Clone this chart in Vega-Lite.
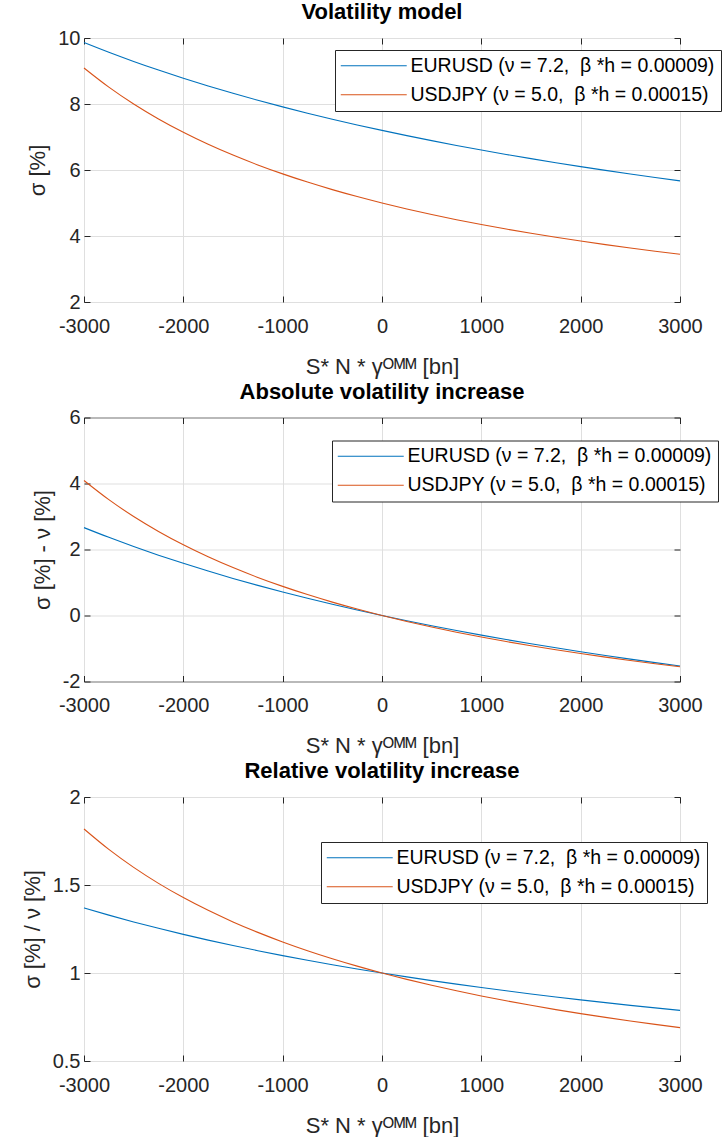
{
  "$schema": "https://vega.github.io/schema/vega-lite/v6.json",
  "padding": {"left": 20, "top": 0, "right": 0, "bottom": 0},
  "background": "white",
  "bounds": "flush",
  "spacing": 115.5,
  "data": {"values": [
    {"x": -3000, "pair": "EURUSD", "sigma": 9.8630, "diff": 2.6630, "ratio": 1.3699},
    {"x": -2750, "pair": "EURUSD", "sigma": 9.5681, "diff": 2.3681, "ratio": 1.3289},
    {"x": -2500, "pair": "EURUSD", "sigma": 9.2903, "diff": 2.0903, "ratio": 1.2903},
    {"x": -2250, "pair": "EURUSD", "sigma": 9.0282, "diff": 1.8282, "ratio": 1.2539},
    {"x": -2000, "pair": "EURUSD", "sigma": 8.7805, "diff": 1.5805, "ratio": 1.2195},
    {"x": -1750, "pair": "EURUSD", "sigma": 8.5460, "diff": 1.3460, "ratio": 1.1869},
    {"x": -1500, "pair": "EURUSD", "sigma": 8.3237, "diff": 1.1237, "ratio": 1.1561},
    {"x": -1250, "pair": "EURUSD", "sigma": 8.1127, "diff": 0.9127, "ratio": 1.1268},
    {"x": -1000, "pair": "EURUSD", "sigma": 7.9121, "diff": 0.7121, "ratio": 1.0989},
    {"x": -750, "pair": "EURUSD", "sigma": 7.7212, "diff": 0.5212, "ratio": 1.0724},
    {"x": -500, "pair": "EURUSD", "sigma": 7.5393, "diff": 0.3393, "ratio": 1.0471},
    {"x": -250, "pair": "EURUSD", "sigma": 7.3657, "diff": 0.1657, "ratio": 1.0230},
    {"x": 0, "pair": "EURUSD", "sigma": 7.2, "diff": 0, "ratio": 1},
    {"x": 250, "pair": "EURUSD", "sigma": 7.0416, "diff": -0.1584, "ratio": 0.9780},
    {"x": 500, "pair": "EURUSD", "sigma": 6.8900, "diff": -0.3100, "ratio": 0.9569},
    {"x": 750, "pair": "EURUSD", "sigma": 6.7447, "diff": -0.4553, "ratio": 0.9368},
    {"x": 1000, "pair": "EURUSD", "sigma": 6.6055, "diff": -0.5945, "ratio": 0.9174},
    {"x": 1250, "pair": "EURUSD", "sigma": 6.4719, "diff": -0.7281, "ratio": 0.8989},
    {"x": 1500, "pair": "EURUSD", "sigma": 6.3436, "diff": -0.8564, "ratio": 0.8811},
    {"x": 1750, "pair": "EURUSD", "sigma": 6.2203, "diff": -0.9797, "ratio": 0.8639},
    {"x": 2000, "pair": "EURUSD", "sigma": 6.1017, "diff": -1.0983, "ratio": 0.8475},
    {"x": 2250, "pair": "EURUSD", "sigma": 5.9875, "diff": -1.2125, "ratio": 0.8316},
    {"x": 2500, "pair": "EURUSD", "sigma": 5.8776, "diff": -1.3224, "ratio": 0.8163},
    {"x": 2750, "pair": "EURUSD", "sigma": 5.7715, "diff": -1.4285, "ratio": 0.8016},
    {"x": 3000, "pair": "EURUSD", "sigma": 5.6693, "diff": -1.5307, "ratio": 0.7874},
    {"x": -3000, "pair": "USDJPY", "sigma": 9.0909, "diff": 4.0909, "ratio": 1.8182},
    {"x": -2750, "pair": "USDJPY", "sigma": 8.5106, "diff": 3.5106, "ratio": 1.7021},
    {"x": -2500, "pair": "USDJPY", "sigma": 8.0000, "diff": 3.0000, "ratio": 1.6000},
    {"x": -2250, "pair": "USDJPY", "sigma": 7.5472, "diff": 2.5472, "ratio": 1.5094},
    {"x": -2000, "pair": "USDJPY", "sigma": 7.1429, "diff": 2.1429, "ratio": 1.4286},
    {"x": -1750, "pair": "USDJPY", "sigma": 6.7797, "diff": 1.7797, "ratio": 1.3559},
    {"x": -1500, "pair": "USDJPY", "sigma": 6.4516, "diff": 1.4516, "ratio": 1.2903},
    {"x": -1250, "pair": "USDJPY", "sigma": 6.1538, "diff": 1.1538, "ratio": 1.2308},
    {"x": -1000, "pair": "USDJPY", "sigma": 5.8824, "diff": 0.8824, "ratio": 1.1765},
    {"x": -750, "pair": "USDJPY", "sigma": 5.6338, "diff": 0.6338, "ratio": 1.1268},
    {"x": -500, "pair": "USDJPY", "sigma": 5.4054, "diff": 0.4054, "ratio": 1.0811},
    {"x": -250, "pair": "USDJPY", "sigma": 5.1948, "diff": 0.1948, "ratio": 1.0390},
    {"x": 0, "pair": "USDJPY", "sigma": 5.0, "diff": 0, "ratio": 1},
    {"x": 250, "pair": "USDJPY", "sigma": 4.8193, "diff": -0.1807, "ratio": 0.9639},
    {"x": 500, "pair": "USDJPY", "sigma": 4.6512, "diff": -0.3488, "ratio": 0.9302},
    {"x": 750, "pair": "USDJPY", "sigma": 4.4944, "diff": -0.5056, "ratio": 0.8989},
    {"x": 1000, "pair": "USDJPY", "sigma": 4.3478, "diff": -0.6522, "ratio": 0.8696},
    {"x": 1250, "pair": "USDJPY", "sigma": 4.2105, "diff": -0.7895, "ratio": 0.8421},
    {"x": 1500, "pair": "USDJPY", "sigma": 4.0816, "diff": -0.9184, "ratio": 0.8163},
    {"x": 1750, "pair": "USDJPY", "sigma": 3.9604, "diff": -1.0396, "ratio": 0.7921},
    {"x": 2000, "pair": "USDJPY", "sigma": 3.8462, "diff": -1.1538, "ratio": 0.7692},
    {"x": 2250, "pair": "USDJPY", "sigma": 3.7383, "diff": -1.2617, "ratio": 0.7477},
    {"x": 2500, "pair": "USDJPY", "sigma": 3.6364, "diff": -1.3636, "ratio": 0.7273},
    {"x": 2750, "pair": "USDJPY", "sigma": 3.5398, "diff": -1.4602, "ratio": 0.7080},
    {"x": 3000, "pair": "USDJPY", "sigma": 3.4483, "diff": -1.5517, "ratio": 0.6897}
  ]},
  "vconcat": [
    {
      "title": "Volatility model",
      "width": 596, "height": 264,
      "layer": [
        {
          "mark": {"type": "line", "strokeWidth": 1.1, "interpolate": "monotone"},
          "encoding": {
            "x": {"field": "x", "type": "quantitative", "scale": {"domain": [-3000, 3000], "nice": false}, "axis": {"values": [-3000, -2000, -1000, 0, 1000, 2000, 3000], "labelExpr": "datum.value + ''", "title": "S* N * γᴼᴹᴹ [bn]"}},
            "y": {"field": "sigma", "type": "quantitative", "scale": {"domain": [2, 10], "nice": false, "zero": false}, "axis": {"values": [2, 4, 6, 8, 10], "labelExpr": "datum.value + ''", "title": "σ [%]"}},
            "color": {"field": "pair", "type": "nominal", "scale": {"domain": ["EURUSD", "USDJPY"], "range": ["#0072BD", "#D95319"]},
              "legend": {"legendX": 251, "legendY": 12, "labelExpr": "datum.label == 'EURUSD' ? 'EURUSD (ν = 7.2, \u00a0β *h = 0.00009)' : 'USDJPY (ν = 5.0, \u00a0β *h = 0.00015)'"}}
          }
        },
        {
          "mark": {"type": "line", "opacity": 0},
          "encoding": {
            "x": {"field": "x", "type": "quantitative", "axis": {"orient": "top", "labels": false, "grid": false, "title": null, "values": [-3000, -2000, -1000, 0, 1000, 2000, 3000]}},
            "y": {"field": "sigma", "type": "quantitative", "axis": {"orient": "right", "labels": false, "grid": false, "title": null, "values": [2, 4, 6, 8, 10]}},
            "detail": {"field": "pair"}
          }
        }
      ],
      "resolve": {"axis": {"x": "independent", "y": "independent"}}
    },
    {
      "title": "Absolute volatility increase",
      "width": 596, "height": 264,
      "layer": [
        {
          "mark": {"type": "line", "strokeWidth": 1.1, "interpolate": "monotone"},
          "encoding": {
            "x": {"field": "x", "type": "quantitative", "scale": {"domain": [-3000, 3000], "nice": false}, "axis": {"values": [-3000, -2000, -1000, 0, 1000, 2000, 3000], "labelExpr": "datum.value + ''", "title": "S* N * γᴼᴹᴹ [bn]"}},
            "y": {"field": "diff", "type": "quantitative", "scale": {"domain": [-2, 6], "nice": false, "zero": false}, "axis": {"values": [-2, 0, 2, 4, 6], "labelExpr": "datum.value + ''", "title": "σ [%] - ν [%]"}},
            "color": {"field": "pair", "type": "nominal", "scale": {"domain": ["EURUSD", "USDJPY"], "range": ["#0072BD", "#D95319"]},
              "legend": {"legendX": 248, "legendY": 23, "labelExpr": "datum.label == 'EURUSD' ? 'EURUSD (ν = 7.2, \u00a0β *h = 0.00009)' : 'USDJPY (ν = 5.0, \u00a0β *h = 0.00015)'"}}
          }
        },
        {
          "mark": {"type": "line", "opacity": 0},
          "encoding": {
            "x": {"field": "x", "type": "quantitative", "axis": {"orient": "top", "labels": false, "grid": false, "title": null, "values": [-3000, -2000, -1000, 0, 1000, 2000, 3000]}},
            "y": {"field": "diff", "type": "quantitative", "axis": {"orient": "right", "labels": false, "grid": false, "title": null, "values": [-2, 0, 2, 4, 6]}},
            "detail": {"field": "pair"}
          }
        }
      ],
      "resolve": {"axis": {"x": "independent", "y": "independent"}}
    },
    {
      "title": "Relative volatility increase",
      "width": 596, "height": 264,
      "layer": [
        {
          "mark": {"type": "line", "strokeWidth": 1.1, "interpolate": "monotone"},
          "encoding": {
            "x": {"field": "x", "type": "quantitative", "scale": {"domain": [-3000, 3000], "nice": false}, "axis": {"values": [-3000, -2000, -1000, 0, 1000, 2000, 3000], "labelExpr": "datum.value + ''", "title": "S* N * γᴼᴹᴹ [bn]"}},
            "y": {"field": "ratio", "type": "quantitative", "scale": {"domain": [0.5, 2], "nice": false, "zero": false}, "axis": {"values": [0.5, 1, 1.5, 2], "labelExpr": "datum.value + ''", "title": "σ [%] / ν [%]"}},
            "color": {"field": "pair", "type": "nominal", "scale": {"domain": ["EURUSD", "USDJPY"], "range": ["#0072BD", "#D95319"]},
              "legend": {"legendX": 237, "legendY": 45, "labelExpr": "datum.label == 'EURUSD' ? 'EURUSD (ν = 7.2, \u00a0β *h = 0.00009)' : 'USDJPY (ν = 5.0, \u00a0β *h = 0.00015)'"}}
          }
        },
        {
          "mark": {"type": "line", "opacity": 0},
          "encoding": {
            "x": {"field": "x", "type": "quantitative", "axis": {"orient": "top", "labels": false, "grid": false, "title": null, "values": [-3000, -2000, -1000, 0, 1000, 2000, 3000]}},
            "y": {"field": "ratio", "type": "quantitative", "axis": {"orient": "right", "labels": false, "grid": false, "title": null, "values": [0.5, 1, 1.5, 2]}},
            "detail": {"field": "pair"}
          }
        }
      ],
      "resolve": {"axis": {"x": "independent", "y": "independent"}}
    }
  ],
  "resolve": {"scale": {"color": "independent"}, "legend": {"color": "independent"}},
  "config": {
    "font": "Liberation Sans",
    "view": {"stroke": "#262626", "strokeWidth": 1},
    "title": {"font": "Liberation Sans", "fontSize": 22, "fontWeight": "bold", "color": "#000000", "offset": 0, "anchor": "middle"},
    "axis": {
      "labelFont": "Liberation Sans", "labelFontSize": 20, "labelColor": "#262626",
      "titleFont": "Liberation Sans", "titleFontSize": 22, "titleFontWeight": "normal", "titleColor": "#262626",
      "domain": false, "tickColor": "#262626", "tickSize": -6, "tickWidth": 1,
      "gridColor": "#dfdfdf", "gridWidth": 1,
      "labelFlush": false, "labelOverlap": false, "labelBound": false
    },
    "axisX": {"labelPadding": 20, "titlePadding": 20},
    "axisY": {"labelPadding": 10, "titlePadding": 8},
    "legend": {
      "orient": "none", "title": null,
      "symbolType": "M-5,0H5", "symbolSize": 174, "symbolStrokeWidth": 1.2,
      "symbolOffset": 23, "labelOffset": 27,
      "labelFont": "Liberation Sans", "labelFontSize": 19.5, "labelColor": "#000000", "labelLimit": 600,
      "padding": 6, "rowPadding": 8,
      "strokeColor": "#262626", "fillColor": "white"
    }
  }
}
